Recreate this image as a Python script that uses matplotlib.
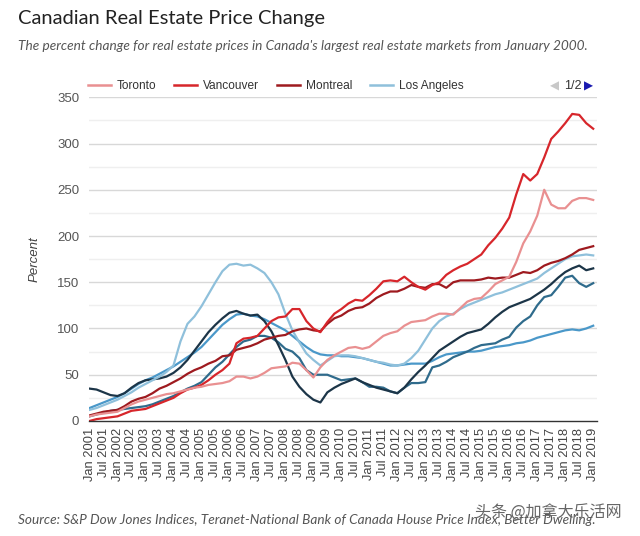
import matplotlib
matplotlib.use("Agg")
import matplotlib.pyplot as plt
import numpy as np

# quarterly sampling, Jan 2001 .. Jan 2019 (decimal years)
years = np.arange(2001, 2019.01, 0.25)

toronto = [5, 7, 8, 9, 10, 14, 18, 21, 23, 25, 27, 29, 30, 32, 34, 36,
           37, 39, 40, 41, 43, 48, 48, 46, 48, 52, 57, 58, 59, 63, 62, 55,
           47, 58, 66, 71, 75, 79, 80, 78, 80, 86, 92, 95, 97, 103, 107, 108,
           109, 113, 116, 116, 115, 122, 129, 132, 133, 140, 148, 152,
           156, 172, 192, 205, 222, 250, 234, 230, 230, 238, 241, 241, 239]
vancouver = [0, 2, 3, 4, 5, 8, 11, 12, 13, 16, 19, 22, 25, 30, 34, 36,
             39, 44, 50, 55, 62, 84, 89, 90, 92, 100, 108, 112, 113, 121, 121, 108,
             100, 96, 107, 116, 121, 127, 131, 130, 136, 143, 151, 152, 151, 156, 150, 145,
             142, 147, 150, 158, 163, 167, 170, 175, 180, 190, 198, 208,
             220, 245, 267, 260, 267, 285, 305, 313, 322, 332, 331, 322, 316]
montreal = [6, 8, 10, 11, 12, 16, 21, 24, 26, 30, 35, 38, 42, 46, 51, 55,
            58, 62, 65, 70, 71, 77, 79, 81, 84, 88, 90, 92, 93, 97, 99, 100,
            98, 97, 105, 111, 114, 119, 122, 123, 127, 133, 137, 140, 140, 143, 147, 145,
            144, 148, 148, 144, 150, 152, 152, 152, 153, 155, 154, 155,
            155, 158, 161, 160, 163, 168, 171, 173, 176, 180, 185, 187, 189]
los_angeles = [12, 14, 17, 20, 23, 27, 31, 36, 40, 44, 48, 53, 60, 86, 105, 113,
               124, 137, 150, 162, 169, 170, 168, 169, 165, 160, 150, 137, 116, 98, 85, 73,
               66, 60, 65, 70, 71, 71, 70, 68, 66, 64, 63, 61, 60, 62, 68, 76,
               88, 100, 108, 113, 116, 121, 125, 128, 131, 134, 137, 139,
               142, 145, 148, 151, 154, 160, 165, 170, 175, 178, 179, 180, 179]
# the other three markets (legend page 2)
market_navy = [35, 34, 31, 28, 27, 30, 36, 41, 44, 45, 46, 48, 52, 58, 66, 76,
               86, 96, 104, 111, 117, 119, 116, 114, 115, 108, 97, 82, 66, 48, 37, 29,
               23, 20, 31, 36, 40, 43, 46, 42, 39, 36, 34, 32, 30, 36, 45, 53,
               60, 68, 76, 81, 86, 91, 95, 97, 99, 105, 112, 118,
               123, 126, 129, 132, 137, 142, 148, 155, 161, 165, 168, 163, 165]
market_teal = [5, 7, 9, 11, 12, 13, 14, 15, 16, 18, 21, 24, 27, 31, 35, 38,
               42, 50, 58, 64, 72, 80, 86, 88, 92, 92, 90, 85, 78, 75, 68, 55,
               50, 50, 50, 47, 44, 45, 46, 42, 37, 37, 36, 32, 30, 36, 41, 41,
               42, 58, 60, 64, 69, 72, 75, 79, 82, 83, 84, 88,
               91, 101, 108, 113, 125, 134, 136, 145, 155, 157, 149, 145, 149]
market_blue = [14, 17, 20, 23, 26, 30, 35, 40, 44, 47, 51, 55, 59, 64, 69, 74,
               80, 88, 96, 104, 110, 115, 116, 114, 113, 110, 106, 102, 98, 92, 86, 80,
               75, 72, 71, 71, 70, 70, 69, 68, 66, 64, 62, 60, 60, 61, 62, 62,
               62, 65, 69, 72, 73, 74, 75, 75, 76, 78, 80, 81,
               82, 84, 85, 87, 90, 92, 94, 96, 98, 99, 98, 100, 103]

tick_years = np.arange(2001, 2019.01, 0.5)
tick_labels = [("Jan " if y % 1 == 0 else "Jul ") + str(int(y)) for y in tick_years]

fig = plt.figure(figsize=(6.4, 5.36), dpi=100)
ax = fig.add_axes([0.139, 0.2146, 0.794, 0.6039])

for v in range(25, 351, 25):
    ax.axhline(v, color="#d8d8d8" if v % 50 == 0 else "#efefef", lw=1.0, zorder=0)

lw = 1.6
ax.plot(years, market_blue, color="#4a98c9", lw=lw)
ax.plot(years, market_teal, color="#2f6b8c", lw=lw)
ax.plot(years, market_navy, color="#1c3548", lw=lw)
l4, = ax.plot(years, los_angeles, color="#8fc0db", lw=lw, label="Los Angeles")
l3, = ax.plot(years, montreal, color="#9e1a1f", lw=lw, label="Montreal")
l2, = ax.plot(years, vancouver, color="#d7262b", lw=lw, label="Vancouver")
l1, = ax.plot(years, toronto, color="#e99091", lw=lw, label="Toronto")

ax.set_xlim(2000.98, 2019.14)
ax.set_ylim(0, 350)
ax.set_yticks(range(0, 351, 50))
ax.set_xticks(tick_years)
ax.set_xticklabels(tick_labels, rotation=90, fontsize=9.3, color="#444444",
                   family="Liberation Sans")
ax.tick_params(axis="y", labelsize=9.5, labelcolor="#555555", length=0, pad=7)
ax.tick_params(axis="x", length=0, pad=5)
for lab in ax.get_yticklabels():
    lab.set_family("Liberation Sans")
for s in ["top", "right", "left"]:
    ax.spines[s].set_visible(False)
ax.spines["bottom"].set_color("#333333")
ax.spines["bottom"].set_linewidth(1.0)
ax.set_ylabel("Percent", fontsize=9.5, style="italic", color="#444444",
              family="Liberation Sans", labelpad=12)

leg = fig.legend(handles=[l1, l2, l3, l4], loc="center left",
                 bbox_to_anchor=(0.121, 0.839), ncol=4, frameon=False,
                 handlelength=1.9, handletextpad=0.5, columnspacing=1.5,
                 prop={"family": "Liberation Sans", "size": 8.6})
for t in leg.get_texts():
    t.set_color("#333333")
for h in leg.get_lines():
    h.set_linewidth(1.8)

fig.text(0.859, 0.840, "\u25c0", color="#c8c8c8", fontsize=8.5, va="center",
         family="DejaVu Sans")
fig.text(0.881, 0.840, "1/2", color="#333333", fontsize=9, va="center",
         family="Liberation Sans")
fig.text(0.912, 0.840, "\u25b6", color="#1a1ab0", fontsize=8.5, va="center",
         family="DejaVu Sans")

fig.text(0.028, 0.965, "Canadian Real Estate Price Change", fontsize=14.5,
         color="#222222", family="Lato", va="center")
fig.text(0.028, 0.914, "The percent change for real estate prices in Canada's largest real estate markets from January 2000.",
         fontsize=9.85, color="#555555", family="Lato", style="italic", va="center")
fig.text(0.028, 0.030, "Source: S&P Dow Jones Indices, Teranet-National Bank of Canada House Price Index, Better Dwelling.",
         fontsize=9.8, color="#555555", family="Lato", style="italic", va="center")
fig.text(0.742, 0.043, "头条 @加拿大乐活网", fontsize=11.5, color="#666666",
         family=["Noto Sans CJK SC", "DejaVu Sans"], va="center")

fig.savefig("out.png", dpi=100)
